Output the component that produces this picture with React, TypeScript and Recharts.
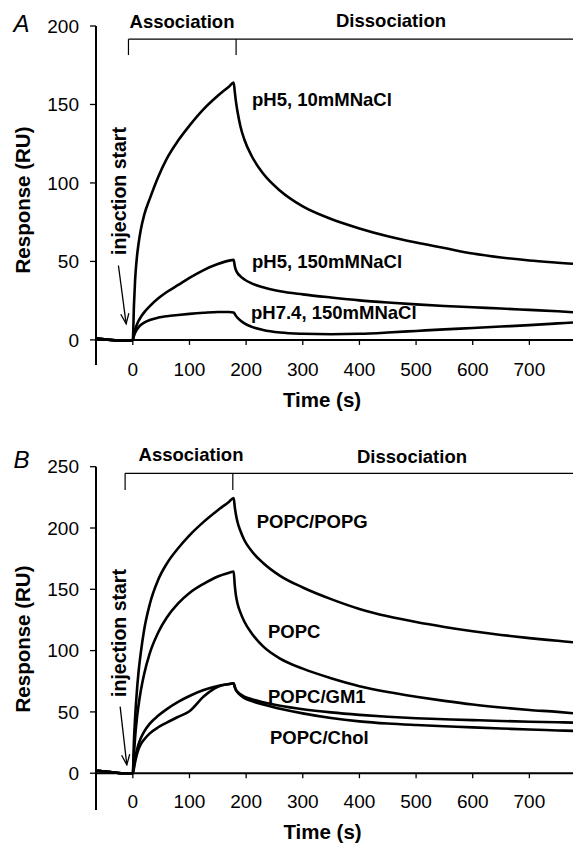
import React from 'react';
import { LineChart, Line, XAxis, YAxis, ReferenceLine } from 'recharts';

// shared time base (s)
const TIME = [-65, -40, -20, -5, 0, 2, 4, 7, 10, 14, 20, 30, 45, 60, 80, 100, 125, 150, 170, 178, 180, 182, 185, 190, 197, 210, 230, 260, 300, 350, 400, 450, 500, 550, 600, 650, 700, 750, 777];

// panel A
const PH5_10 = [1, 0, -0.5, -0.5, 0, 22, 38, 52, 61, 70, 79.5, 90, 104, 115.5, 127, 136.5, 147, 155.5, 161.5, 164, 158, 152, 145, 136, 127.5, 117, 106, 95, 85, 77, 71, 66, 62, 58.5, 55, 52.5, 50.6, 49.2, 48.5];
const PH5_150 = [1, 0, -0.5, -0.5, 0, 3.5, 6.5, 9.5, 12, 14.5, 17.5, 21.5, 26.5, 30.5, 35, 39.5, 44.5, 48.3, 50.5, 51, 47, 44.5, 42.5, 40.5, 38.5, 36, 33.5, 31, 29, 27, 25.2, 23.8, 22.6, 21.6, 20.8, 20, 19.1, 18.2, 17.6];
const PH74_150 = [1, 0, -0.5, -0.5, 0, 2.5, 4.5, 6.5, 8, 9.5, 11, 12.7, 14.2, 15.1, 15.9, 16.6, 17.3, 17.8, 17.8, 17.5, 16.5, 15.3, 14, 12.3, 10.5, 8.3, 6.3, 4.7, 3.9, 3.6, 3.9, 4.7, 5.7, 6.7, 7.6, 8.5, 9.4, 10.5, 11.1];

// panel B
const POPC_POPG = [2, 1, 0, 0, 0, 27, 45, 66, 82, 98, 117, 138, 158, 171, 183.5, 194, 205, 214.5, 221.5, 224.5, 217, 211, 204.5, 197.5, 190, 181, 171.5, 161, 151.5, 142, 134, 128, 123.3, 119.3, 115.8, 112.8, 110.2, 108, 106.8];
const POPC = [2, 1, 0, 0, 0, 16, 29, 44, 55, 67, 81, 98, 115, 127, 138.5, 147, 154.5, 160.5, 163.5, 164.5, 153, 145, 138, 131, 123.5, 114, 103.5, 93.5, 85.3, 77.5, 71, 66.2, 62.4, 59, 56, 53.6, 51.6, 50, 48.9];
const POPC_GM1 = [2, 1, 0, 0, 0, 6, 12, 18.5, 23.5, 28.5, 34, 40.5, 47, 52.3, 58.2, 63, 67.8, 71.2, 72.8, 73.4, 70.5, 68.3, 66.3, 64.3, 62.5, 60.3, 57.8, 55, 52.2, 49.6, 47.6, 46, 44.8, 44, 43.3, 42.6, 42, 41.6, 41.3];
const POPC_CHOL = [2, 1, 0, 0, 0, 4, 9, 15, 19.5, 23.5, 27.5, 32.5, 37.5, 41.3, 46, 50.5, 62.5, 70.5, 72.8, 73.4, 70, 67.8, 65.8, 63.6, 61.3, 58.8, 56, 52.6, 48.8, 45, 42.3, 40.5, 39.3, 38.3, 37.4, 36.5, 35.6, 34.9, 34.5];

const X_TICKS = [0, 100, 200, 300, 400, 500, 600, 700];
const Y_TICKS_A = [0, 50, 100, 150, 200];
const Y_TICKS_B = [0, 50, 100, 150, 200, 250];

const rowsA = TIME.map((t, i) => ({ t, a1: PH5_10[i], a2: PH5_150[i], a3: PH74_150[i] }));
const rowsB = TIME.map((t, i) => ({ t, b1: POPC_POPG[i], b2: POPC[i], b3: POPC_GM1[i], b4: POPC_CHOL[i] }));

const FONT = '"Liberation Sans", Arial, sans-serif';

const arrowShape = (p: any) => {
  const { x1, y1, x2, y2 } = p;
  const a = Math.atan2(y2 - y1, x2 - x1);
  const L = 11;
  const s = 0.38;
  const h1 = `${x2 - L * Math.cos(a - s)},${y2 - L * Math.sin(a - s)}`;
  const h2 = `${x2 - L * Math.cos(a + s)},${y2 - L * Math.sin(a + s)}`;
  return (
    <g stroke="#000" strokeWidth={1.3} fill="none">
      <line x1={x1} y1={y1} x2={x2} y2={y2} />
      <polyline points={`${h1} ${x2},${y2} ${h2}`} />
    </g>
  );
};

const Txt = ({ x, y, children, size = 18.5, bold = true, italic = false, left = false, rotate = 0 }: any) => (
  <div
    style={{
      position: 'absolute',
      left: x,
      top: y,
      transform: `translate(${left ? '0' : '-50%'}, -50%) rotate(${rotate}deg)`,
      fontFamily: FONT,
      fontSize: size,
      fontWeight: bold ? 700 : 400,
      fontStyle: italic ? 'italic' : 'normal',
      lineHeight: 1,
      whiteSpace: 'nowrap',
      color: '#000',
    }}
  >
    {children}
  </div>
);

const tickStyle = { fill: '#000', fontSize: 19, fontFamily: FONT };

const bracket = (y: number, yLow: number, xl: number, xr: number, key: string) => (
  <React.Fragment key={key}>
    <ReferenceLine segment={[{ x: xl, y }, { x: 777, y }]} stroke="#000" strokeWidth={1.2} />
    <ReferenceLine segment={[{ x: xl, y }, { x: xl, y: yLow }]} stroke="#000" strokeWidth={1.2} />
    <ReferenceLine segment={[{ x: xr, y }, { x: xr, y: yLow }]} stroke="#000" strokeWidth={1.2} />
  </React.Fragment>
);

const App = () => {
  const lineProps = { type: 'monotone' as const, stroke: '#000', strokeWidth: 2.6, dot: false, isAnimationActive: false };
  return (
    <div style={{ position: 'absolute', left: 0, top: 0, width: 573, height: 845, background: '#fff', fontFamily: FONT }}>
      <LineChart width={573} height={420} data={rowsA} margin={{ top: 26, right: 0, bottom: 0, left: 0 }}>
        <XAxis dataKey="t" type="number" domain={[-65, 777]} allowDataOverflow ticks={X_TICKS} interval={0}
          axisLine={false} tickLine={false} tickSize={0} tickMargin={-2} height={55} tick={tickStyle} />
        <YAxis type="number" domain={[-16, 200]} allowDataOverflow ticks={Y_TICKS_A} width={96}
          axisLine={{ stroke: '#000', strokeWidth: 2 }} tickLine={{ stroke: '#000', strokeWidth: 1.3 }}
          tickSize={6} tickMargin={11} tick={tickStyle} />
        <ReferenceLine y={0} stroke="#000" strokeWidth={2} />
        {X_TICKS.map(t => (
          <ReferenceLine key={t} segment={[{ x: t, y: 0 }, { x: t, y: -3.2 }]} stroke="#000" strokeWidth={1.3} />
        ))}
        {bracket(191.6, 181.5, -7.7, 182.3, 'ba')}
        <ReferenceLine segment={[{ x: -25.4, y: 47.4 }, { x: -11.8, y: 10.2 }]} shape={arrowShape} />
        <Line dataKey="a1" {...lineProps} />
        <Line dataKey="a2" {...lineProps} />
        <Line dataKey="a3" {...lineProps} />
      </LineChart>
      <LineChart width={573} height={425} data={rowsB} margin={{ top: 46.7, right: 0, bottom: 0, left: 0 }}>
        <XAxis dataKey="t" type="number" domain={[-65, 777]} allowDataOverflow ticks={X_TICKS} interval={0}
          axisLine={false} tickLine={false} tickSize={0} tickMargin={-15} height={35} tick={tickStyle} />
        <YAxis type="number" domain={[-30, 250]} allowDataOverflow ticks={Y_TICKS_B} width={96}
          axisLine={{ stroke: '#000', strokeWidth: 2 }} tickLine={{ stroke: '#000', strokeWidth: 1.3 }}
          tickSize={6} tickMargin={11} tick={tickStyle} />
        <ReferenceLine y={0} stroke="#000" strokeWidth={2} />
        {X_TICKS.map(t => (
          <ReferenceLine key={t} segment={[{ x: t, y: 0 }, { x: t, y: -4.1 }]} stroke="#000" strokeWidth={1.3} />
        ))}
        {bracket(244.6, 231, -13.6, 176.5, 'bb')}
        <ReferenceLine segment={[{ x: -22.4, y: 54.3 }, { x: -10.6, y: 6.8 }]} shape={arrowShape} />
        <Line dataKey="b1" {...lineProps} />
        <Line dataKey="b2" {...lineProps} />
        <Line dataKey="b3" {...lineProps} />
        <Line dataKey="b4" {...lineProps} />
      </LineChart>

      {/* panel A text */}
      <Txt x={21.5} y={24} size={24} bold={false} italic>A</Txt>
      <Txt x={182} y={22}>Association</Txt>
      <Txt x={391} y={21}>Dissociation</Txt>
      <Txt x={120} y={190.5} size={19.5} rotate={-90}>injection start</Txt>
      <Txt x={252} y={100} left>pH5, 10mMNaCl</Txt>
      <Txt x={252} y={261.7} left>pH5, 150mMNaCl</Txt>
      <Txt x={251} y={313.3} left>pH7.4, 150mMNaCl</Txt>
      <Txt x={23} y={200} size={20.5} rotate={-90}>Response (RU)</Txt>
      <Txt x={322} y={400} size={20.5}>Time (s)</Txt>

      {/* panel B text */}
      <Txt x={21.5} y={460} size={24} bold={false} italic>B</Txt>
      <Txt x={191} y={455}>Association</Txt>
      <Txt x={412} y={456.7}>Dissociation</Txt>
      <Txt x={120} y={632.5} size={19.5} rotate={-90}>injection start</Txt>
      <Txt x={256.7} y={521.7} left>POPC/POPG</Txt>
      <Txt x={268} y={631.7} left>POPC</Txt>
      <Txt x={268} y={697} left>POPC/GM1</Txt>
      <Txt x={270} y={738.3} left>POPC/Chol</Txt>
      <Txt x={23} y={639} size={20.5} rotate={-90}>Response (RU)</Txt>
      <Txt x={322.5} y={832} size={20.5}>Time (s)</Txt>
    </div>
  );
};

export default App;
